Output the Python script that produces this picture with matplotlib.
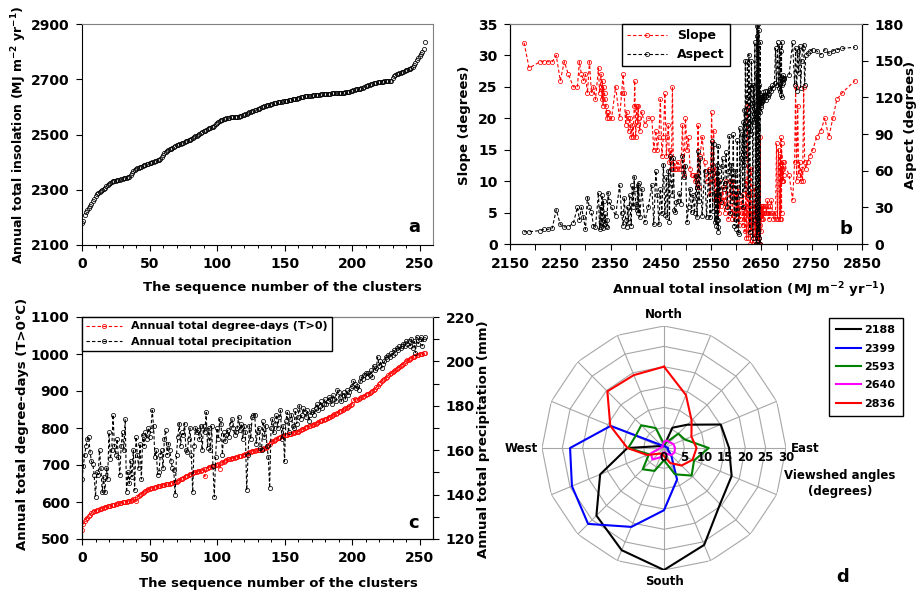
import numpy as np
import matplotlib
matplotlib.use('Agg')
from matplotlib import pyplot as plt

plt.rcParams['font.family'] = 'DejaVu Sans'
plt.rcParams['font.weight'] = 'bold'
plt.rcParams['axes.labelweight'] = 'bold'
plt.rcParams['mathtext.fontset'] = 'dejavusans'

# ---- data: clusters sorted by annual total insolation ----
insolation = [
    2178, 2188, 2210, 2218, 2226, 2234, 2242, 2250, 2258, 2266, 2276,
    2284, 2288, 2292, 2296, 2300, 2304, 2308, 2312, 2316, 2320,
    2326, 2328, 2330, 2331, 2333, 2334, 2335, 2336, 2338, 2339,
    2341, 2342, 2343, 2345, 2347, 2352, 2360, 2368, 2372, 2375,
    2377, 2380, 2382, 2384, 2386, 2388, 2391, 2393, 2395, 2397,
    2398, 2400, 2402, 2404, 2405, 2406, 2408, 2412, 2418, 2425,
    2432, 2436, 2440, 2443, 2446, 2449, 2452, 2455, 2458, 2461,
    2463, 2465, 2467, 2469, 2471, 2473, 2475, 2477, 2479, 2481,
    2484, 2487, 2490, 2493, 2496, 2499, 2502, 2505, 2508, 2511,
    2514, 2517, 2520, 2522, 2524, 2526, 2528, 2532, 2537, 2541,
    2545, 2548, 2551, 2553, 2555, 2557, 2558, 2560, 2561, 2562,
    2562, 2563, 2563, 2564, 2564, 2565, 2566, 2567, 2569, 2571,
    2573, 2575, 2577, 2580, 2582, 2584, 2586, 2588, 2590, 2592,
    2594, 2596, 2598, 2600, 2602, 2603, 2605, 2607, 2608, 2610,
    2612, 2613, 2614, 2615, 2616, 2617, 2618, 2619, 2620, 2621,
    2622, 2623, 2624, 2625, 2626, 2627, 2628, 2629, 2630, 2632,
    2633, 2634, 2636, 2637, 2638, 2639, 2640, 2640, 2641, 2641,
    2642, 2642, 2643, 2643, 2644, 2644, 2645, 2645, 2646, 2646,
    2647, 2647, 2648, 2648, 2649, 2649, 2650, 2650, 2650, 2651,
    2651, 2652, 2652, 2652, 2653, 2653, 2654, 2655, 2656, 2658,
    2660, 2662, 2663, 2664, 2665, 2666, 2668, 2670, 2672, 2674,
    2676, 2678, 2680, 2682, 2684, 2686, 2687, 2688, 2689, 2690,
    2690, 2691, 2691, 2692, 2692, 2693, 2693, 2694, 2694, 2705,
    2712, 2716, 2718, 2720, 2722, 2724, 2726, 2728, 2730, 2732,
    2734, 2736, 2738, 2742, 2746, 2752, 2760, 2768, 2776, 2784,
    2792, 2800, 2810, 2836]

slope = [
    32, 28, 29, 29, 29, 29, 30, 26, 29, 27, 25,
    25, 29, 27, 26, 27, 24, 29, 24, 25, 23,
    28, 24, 25, 27, 23, 26, 22, 25, 24, 23,
    22, 21, 20, 21, 20, 20, 25, 20, 24, 27,
    24, 19, 21, 20, 18, 20, 17, 19, 17, 22,
    26, 17, 22, 19, 22, 20, 18, 21, 19, 20,
    20, 15, 18, 15, 17, 23, 14, 17, 24, 14,
    17, 19, 13, 15, 12, 25, 12, 13, 12, 12,
    13, 12, 12, 19, 11, 20, 15, 17, 12, 11,
    11, 10, 11, 9, 19, 9, 14, 17, 13, 10,
    12, 8, 21, 10, 18, 7, 12, 7, 8, 6,
    7, 6, 7, 6, 10, 7, 5, 8, 6, 7,
    9, 7, 5, 10, 6, 4, 8, 10, 5, 4,
    10, 5, 4, 8, 5, 9, 3, 6, 4, 7,
    5, 3, 8, 4, 6, 2, 5, 10, 1, 6,
    22, 5, 1, 8, 3, 6, 0, 12, 2, 5,
    0, 4, 9, 1, 6, 0, 3, 5, 1, 7,
    0, 5, 2, 8, 0, 4, 1, 6, 0, 5,
    3, 0, 17, 5, 2, 5, 4, 6, 5, 5,
    4, 5, 6, 5, 5, 4, 6, 5, 5, 6,
    5, 7, 6, 5, 4, 5, 6, 7, 5, 4,
    5, 4, 16, 4, 15, 4, 14, 4, 17, 5,
    16, 10, 12, 10, 13, 12, 10, 11, 13, 11,
    7, 13, 25, 10, 22, 11, 13, 10, 12, 10,
    25, 13, 12, 13, 14, 15, 17, 18, 20, 17,
    20, 23, 24, 26]

aspect = [
    10, 10, 11, 12, 12, 13, 28, 16, 14, 14, 17,
    30, 20, 30, 22, 12, 38, 30, 26, 15, 14,
    42, 12, 30, 14, 40, 20, 13, 35, 16, 25,
    15, 14, 20, 42, 35, 30, 23, 48, 25, 15,
    38, 20, 14, 30, 18, 40, 15, 48, 30, 55,
    45, 33, 28, 48, 25, 50, 22, 45, 18, 30,
    48, 16, 60, 40, 16, 45, 25, 65, 24, 55,
    22, 60, 18, 72, 50, 40, 70, 28, 26, 34,
    35, 42, 33, 72, 55, 64, 18, 30, 45, 26,
    40, 25, 56, 22, 76, 35, 70, 23, 60, 22,
    60, 22, 84, 27, 82, 18, 42, 15, 58, 20,
    65, 14, 20, 80, 10, 60, 40, 52, 34, 64,
    70, 45, 50, 75, 30, 60, 88, 25, 65, 35,
    90, 15, 60, 12, 85, 10, 8, 95, 40, 70,
    90, 30, 100, 65, 110, 45, 150, 105, 70, 120,
    150, 95, 40, 155, 100, 10, 130, 90, 150, 115,
    5, 130, 100, 165, 20, 110, 0, 140, 115, 178,
    0, 170, 95, 180, 10, 160, 110, 175, 5, 130,
    120, 0, 165, 108, 114, 112, 118, 115, 120, 117,
    118, 122, 120, 116, 121, 118, 124, 120, 122, 125,
    118, 125, 122, 120, 126, 123, 128, 125, 130, 128,
    132, 160, 130, 165, 128, 162, 125, 158, 122, 165,
    120, 135, 130, 136, 132, 134, 138, 136, 135, 138,
    165, 130, 160, 125, 158, 140, 162, 128, 150, 160,
    163, 130, 155, 156, 158, 159, 158, 155, 159, 156,
    158, 159, 160, 161]

degree_days = [
    525, 540, 548, 553, 558, 562, 566, 570, 573, 575, 577,
    578, 579, 580, 582, 584, 585, 586, 587, 588, 589,
    590, 591, 592, 593, 594, 595, 596, 597, 598, 599,
    600, 600, 601, 602, 603, 604, 605, 607, 609, 603,
    614, 617, 620, 622, 625, 627, 630, 632, 634, 636,
    637, 638, 639, 640, 641, 642, 643, 644, 645, 646,
    647, 648, 648, 649, 650, 651, 652, 653, 654, 655,
    657, 659, 661, 663, 665, 667, 669, 671, 673, 675,
    677, 679, 680, 681, 682, 683, 684, 685, 686, 688,
    669, 690, 692, 694, 695, 696, 697, 698, 699, 700,
    702, 690, 705, 707, 709, 711, 713, 715, 716, 717,
    718, 719, 720, 721, 722, 723, 724, 725, 726, 728,
    729, 731, 733, 735, 736, 737, 738, 739, 740, 741,
    740, 741, 742, 743, 745, 747, 750, 754, 758, 762,
    764, 766, 768, 770, 772, 774, 776, 778, 779, 780,
    781, 782, 783, 784, 785, 786, 787, 788, 789, 790,
    792, 794, 796, 798, 800, 802, 804, 805, 806, 807,
    808, 810, 812, 814, 816, 818, 820, 821, 822, 823,
    825, 827, 829, 831, 833, 835, 837, 839, 841, 843,
    845, 847, 849, 851, 853, 855, 857, 859, 861, 865,
    876, 878, 876, 877, 879, 881, 883, 885, 887, 889,
    891, 893, 895, 897, 900, 903, 906, 910, 914, 918,
    922, 926, 930, 933, 936, 939, 942, 945, 948, 951,
    953, 956, 959, 962, 965, 968, 971, 974, 977, 980,
    983, 985, 987, 989, 991, 993, 995, 997, 998, 999,
    1000, 1001, 1002, 1003]

precipitation = [
    147, 153, 158, 162, 165, 166, 159, 155, 154, 149, 139,
    150, 149, 160, 152, 141, 148, 141, 152, 147, 168,
    156, 160, 176, 162, 158, 165, 157, 149, 162, 168,
    160, 174, 141, 150, 145, 155, 148, 160, 142, 166,
    158, 152, 163, 147, 167, 162, 168, 165, 170, 166,
    169, 178, 171, 157, 160, 149, 150, 158, 160, 152,
    165, 169, 158, 163, 160, 155, 152, 151, 140, 158,
    166, 172, 162, 168, 167, 172, 160, 159, 165, 170,
    158, 141, 162, 170, 168, 169, 165, 171, 160, 171,
    168, 177, 161, 170, 160, 171, 153, 139, 157, 170,
    165, 174, 172, 158, 168, 164, 167, 169, 166, 172,
    174, 170, 167, 168, 170, 175, 169, 172, 165, 171,
    168, 142, 158, 171, 165, 175, 176, 176, 163, 168,
    170, 161, 160, 173, 166, 171, 162, 157, 143, 170,
    174, 168, 172, 176, 170, 175, 178, 165, 171, 155,
    173, 177, 168, 174, 176, 171, 170, 178, 172, 175,
    180, 174, 176, 179, 177, 175, 178, 173, 176, 177,
    178, 176, 179, 181, 178, 180, 182, 179, 181, 183,
    181, 182, 184, 183, 181, 185, 183, 182, 187, 186,
    184, 182, 185, 186, 183, 187, 185, 186, 188, 189,
    191, 190, 188, 189, 187, 191, 193, 192, 194, 195,
    193, 195, 194, 196, 193, 198, 196, 197, 202, 198,
    200, 197, 199, 200, 202, 201, 203, 202, 204, 203,
    205, 204, 206, 205, 207, 206, 207, 208, 207, 209,
    208, 209, 207, 210, 206, 209, 204, 211, 208, 210,
    211, 207, 210, 211]

cluster_idx = np.arange(len(insolation))

# ---- viewshed angles (degrees) by direction, N then clockwise ----
directions = ['North', '', '', '', 'East', '', '', '', 'South', '', '', '', 'West', '', '', '']
view_2188 = [0.5, 5.4, 8.1, 15.1, 16, 18, 19.5, 25.8, 30, 27.2, 23.5, 17, 9, 1.2, 0.5, 0.5]
view_2399 = [0.5, 0.5, 0.5, 0.5, 1, 1, 2.5, 8.4, 15.3, 21, 26.4, 24.5, 23.1, 14.2, 1, 0.5]
view_2593 = [1, 1.5, 5, 5.5, 11, 8, 9.6, 7, 3, 6.1, 7.4, 4, 8.8, 7.6, 7.9, 5.3]
view_2640 = [1.5, 2, 2, 2.5, 2.7, 2.8, 2.5, 1.5, 1, 2.5, 4, 3.5, 1, 0.5, 0.5, 0.8]
view_2836 = [20, 14.1, 9.6, 7.3, 8, 7.6, 6.1, 4, 2, 1.5, 2, 4.5, 9, 14.3, 19.7, 19.4]
view_series = [('2188', view_2188, 'black'), ('2399', view_2399, '#0000ff'),
               ('2593', view_2593, '#008000'), ('2640', view_2640, '#ff00ff'),
               ('2836', view_2836, '#ff0000')]

W, H = 917, 592
fig = plt.figure(figsize=(W / 100, H / 100), dpi=100)

dash = (0, (3, 2))
tick_fs = 10
lab_fs = 9.5
mk = dict(marker='o', ms=3, mfc='none', mew=0.55)


def frame(ax, right_grey=True):
    ax.spines['top'].set_color('#808080')
    if right_grey:
        ax.spines['right'].set_color('#808080')
    ax.tick_params(direction='out', length=4, width=0.8, labelsize=tick_fs, pad=5)
    ax.tick_params(which='minor', direction='out', length=2.5, width=0.7)


def box(l, t, r, b):
    return [l / W, 1 - b / H, (r - l) / W, (b - t) / H]


# ---- a ----
ax_a = fig.add_axes(box(82, 24, 433, 245))
ax_a.plot(cluster_idx, insolation, ls='none', mec='black', **mk)
ax_a.set_xlim(0, 260)
ax_a.set_ylim(2100, 2900)
ax_a.set_xticks(range(0, 251, 50))
ax_a.set_xticks(range(0, 260, 10), minor=True)
ax_a.set_yticks(range(2100, 2901, 200))
frame(ax_a)
ax_a.set_xlabel('The sequence number of the clusters', fontsize=lab_fs)
ax_a.xaxis.set_label_coords(0.57, -0.165)
ax_a.set_ylabel(r'Annual total insolation (MJ m$^{\mathbf{-2}}$ yr$^{\mathbf{-1}}$)', fontsize=9)
ax_a.yaxis.set_label_coords(-0.15, 0.5)
ax_a.text(0.946, 0.08, 'a', transform=ax_a.transAxes, fontsize=13, ha='center', va='center')

# ---- b ----
ax_b = fig.add_axes(box(510, 24, 862, 244))
ln_s, = ax_b.plot(insolation, slope, color='red', ls=dash, lw=0.8, mec='red', **mk)
ax_b.set_xlim(2150, 2850)
ax_b.set_ylim(0, 35)
ax_b.set_xticks(range(2150, 2851, 100))
ax_b.set_xticks(range(2200, 2850, 100), minor=True)
ax_b.set_yticks(range(0, 36, 5))
frame(ax_b, right_grey=False)
ax_b.tick_params(which='minor', length=4)
ax_b2 = ax_b.twinx()
ln_a, = ax_b2.plot(insolation, aspect, color='black', ls=dash, lw=0.8, mec='black', **mk)
ax_b2.set_ylim(0, 180)
ax_b2.set_yticks(range(0, 181, 30))
ax_b2.spines['top'].set_color('#808080')
ax_b2.tick_params(direction='out', length=4, width=0.8, labelsize=tick_fs, pad=5)
ax_b.set_xlabel(r'Annual total insolation (MJ m$^{\mathbf{-2}}$ yr$^{\mathbf{-1}}$)', fontsize=lab_fs)
ax_b.xaxis.set_label_coords(0.68, -0.165)
ax_b.set_ylabel('Slope (degrees)', fontsize=lab_fs)
ax_b.yaxis.set_label_coords(-0.11, 0.54)
ax_b2.set_ylabel('Aspect (degrees)', fontsize=lab_fs)
ax_b2.yaxis.set_label_coords(1.12, 0.54)
ax_b2.text(0.954, 0.068, 'b', transform=ax_b.transAxes, fontsize=13, ha='center', va='center')
leg = ax_b2.legend([ln_s, ln_a], ['Slope', 'Aspect'], loc='upper left',
                   bbox_to_anchor=(0.318, 1.0), borderaxespad=0, fontsize=9, numpoints=1,
                   handlelength=3.2, fancybox=False, framealpha=1, edgecolor='black')
leg.get_frame().set_linewidth(1.0)

# ---- c ----
ax_c = fig.add_axes(box(82, 317, 433, 539))
ln_d, = ax_c.plot(cluster_idx, degree_days, color='red', ls=dash, lw=0.8, mec='red', **mk)
ax_c.set_xlim(0, 260)
ax_c.set_ylim(500, 1100)
ax_c.set_xticks(range(0, 251, 50))
ax_c.set_xticks(range(0, 260, 10), minor=True)
ax_c.set_yticks(range(500, 1101, 100))
frame(ax_c, right_grey=False)
ax_c2 = ax_c.twinx()
ln_p, = ax_c2.plot(cluster_idx, precipitation, color='black', ls=dash, lw=0.8, mec='black', **mk)
ax_c2.set_ylim(120, 220)
ax_c2.set_yticks(range(120, 221, 20))
ax_c2.set_yticks(range(120, 221, 10), minor=True)
ax_c2.spines['top'].set_color('#808080')
ax_c2.tick_params(direction='out', length=4, width=0.8, labelsize=tick_fs, pad=5)
ax_c2.tick_params(which='minor', direction='out', length=4, width=0.8)
ax_c.set_xlabel('The sequence number of the clusters', fontsize=lab_fs)
ax_c.xaxis.set_label_coords(0.56, -0.17)
ax_c.set_ylabel('Annual total degree-days (T>0°C)', fontsize=lab_fs)
ax_c.yaxis.set_label_coords(-0.15, 0.52)
ax_c2.set_ylabel('Annual total precipitation (mm)', fontsize=lab_fs)
ax_c2.yaxis.set_label_coords(1.125, 0.45)
ax_c2.text(0.946, 0.073, 'c', transform=ax_c.transAxes, fontsize=13, ha='center', va='center')
leg = ax_c2.legend([ln_d, ln_p], ['Annual total degree-days (T>0)', 'Annual total precipitation'],
                   loc='upper left', bbox_to_anchor=(0, 1.0), borderaxespad=0, fontsize=8,
                   numpoints=1, handlelength=3.2, fancybox=False, framealpha=1, edgecolor='black')
leg.get_frame().set_linewidth(1.0)

# ---- d: radar of viewshed angles ----
cx, cy, rad = 664, 448, 122
ax_d = fig.add_axes(box(cx - rad, cy - rad, cx + rad, cy + rad), projection='polar')
ax_d.set_theta_zero_location('N')
ax_d.set_theta_direction(-1)
ang = np.deg2rad(np.arange(len(directions)) * 22.5)
ang_c = np.append(ang, ang[0])
ax_d.grid(False)
ax_d.spines['polar'].set_visible(False)
ax_d.set_xticks([])
ax_d.set_yticks([])
for r in range(5, 31, 5):
    ax_d.plot(ang_c, np.full(len(ang_c), r), color='#a6a6a6', lw=0.8, zorder=1)
for a in ang:
    ax_d.plot([a, a], [0, 30], color='#a6a6a6', lw=0.8, zorder=1)
handles = []
for name, vals, col in view_series:
    h, = ax_d.plot(ang_c, np.append(vals, vals[0]), color=col, lw=1.5, zorder=3)
    handles.append(h)
ax_d.set_ylim(0, 30)
label_r = {'North': 32.8, 'East': 34.6, 'South': 32.9, 'West': 35}
for a, d in zip(ang, directions):
    if d:
        ax_d.text(a, label_r[d], d, ha='center', va='center', fontsize=8.5)
for r in range(0, 31, 5):
    ax_d.annotate(str(r), xy=(np.pi / 2, r), xytext=(0, -2.5), textcoords='offset points',
                  ha='center', va='top', fontsize=8.5, annotation_clip=False)
fig.text(840 / W, 1 - 484 / H, 'Viewshed angles\n(degrees)', ha='center', va='center',
         fontsize=8.5, linespacing=1.3)
fig.text(843 / W, 1 - 577 / H, 'd', ha='center', va='center', fontsize=13)
leg = fig.legend(handles, [s[0] for s in view_series], loc='upper left',
                 bbox_to_anchor=(823 / W, 1 - 312 / H), fontsize=8, handlelength=2.2,
                 handletextpad=0.3, labelspacing=0.75, borderpad=0.7, fancybox=False,
                 framealpha=1, edgecolor='black')
leg.get_frame().set_linewidth(1.0)

fig.savefig('out.png', dpi=100)
